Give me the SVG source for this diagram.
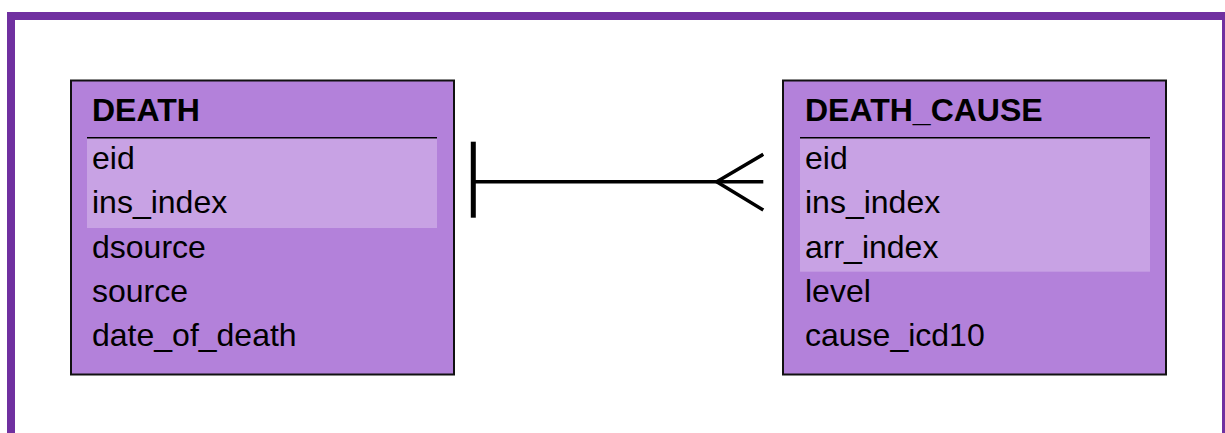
<svg xmlns="http://www.w3.org/2000/svg" width="1225" height="433" viewBox="0 0 1225 433">
<style>
.box{fill:#B381DA;stroke:#111;stroke-width:2}
.hl{fill:#C8A2E4}
.sep{stroke:#000;stroke-width:1.5}
.title{font-family:"Liberation Sans",Arial,sans-serif;font-weight:bold;font-size:32px;fill:#000}
.field{font-family:"Liberation Sans",Arial,sans-serif;font-size:32px;fill:#000}
.conn{stroke:#000;fill:none;stroke-width:3.5}
</style>
<rect x="0" y="0" width="1225" height="433" fill="#fff"/>
<rect x="11" y="16" width="1215" height="440" fill="none" stroke="#7030A0" stroke-width="8"/>
<g id="death">
<rect class="box" x="71" y="80.5" width="383" height="294"/>
<rect class="hl" x="87" y="138" width="350" height="90"/>
<line class="sep" x1="87" y1="137.7" x2="437" y2="137.7"/>
<text class="title" x="92" y="120.7">DEATH</text>
<text class="field" x="92" y="169">eid</text>
<text class="field" x="92" y="213.3">ins_index</text>
<text class="field" x="92" y="257.6">dsource</text>
<text class="field" x="92" y="302">source</text>
<text class="field" x="92" y="346.3">date_of_death</text>
</g>
<g id="death_cause">
<rect class="box" x="783" y="80.5" width="383" height="294"/>
<rect class="hl" x="800" y="138" width="350" height="133.7"/>
<line class="sep" x1="800" y1="137.7" x2="1150" y2="137.7"/>
<text class="title" x="805" y="120.7">DEATH_CAUSE</text>
<text class="field" x="805" y="169">eid</text>
<text class="field" x="805" y="213.3">ins_index</text>
<text class="field" x="805" y="257.6">arr_index</text>
<text class="field" x="805" y="302">level</text>
<text class="field" x="805" y="346.3">cause_icd10</text>
</g>
<g id="connectors">
<line x1="473.3" y1="141.7" x2="473.3" y2="217.7" stroke="#000" stroke-width="5"/>
<line class="conn" x1="473.3" y1="181.7" x2="763.3" y2="181.7"/>
<polyline class="conn" points="763.3,154.3 716.7,181.7 763.3,210"/>
</g>
</svg>
